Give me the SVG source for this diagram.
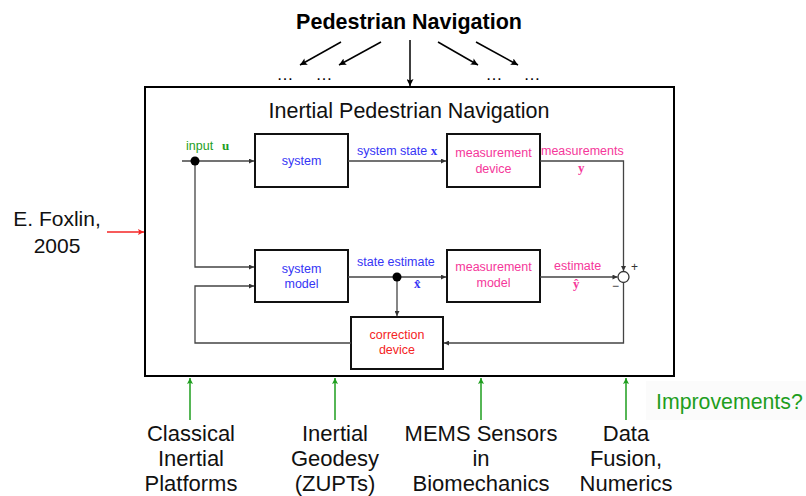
<svg xmlns="http://www.w3.org/2000/svg" width="806" height="496" viewBox="0 0 806 496">
<style>
.t{font-family:"Liberation Sans",Arial,sans-serif}
.big{font-size:22px;fill:#111}
.sm{font-size:12.5px}
.blue{fill:#3535f5}
.pink{fill:#f5379a}
.red{fill:#f42424}
.green{fill:#1e9e1e}
.m{font-family:"Liberation Serif","DejaVu Serif",serif;font-weight:bold;font-size:13px}
.blk{fill:#fff;stroke:#111;stroke-width:2}
.con{fill:none;stroke:#444;stroke-width:1.3}
</style>
<defs>
<marker id="ah" viewBox="0 0 10 10" refX="10" refY="5" markerWidth="7" markerHeight="5" orient="auto" markerUnits="userSpaceOnUse"><path d="M0,0 L10,5 L0,10 z" fill="#333"/></marker>
<marker id="ab" viewBox="0 0 10 10" refX="10" refY="5" markerWidth="10" markerHeight="7" orient="auto" markerUnits="userSpaceOnUse"><path d="M0,0 L10,5 L0,10 L2,5 z" fill="#000"/></marker>
<marker id="ar" viewBox="0 0 10 10" refX="10" refY="5" markerWidth="9" markerHeight="6" orient="auto" markerUnits="userSpaceOnUse"><path d="M0,0 L10,5 L0,10 L2,5 z" fill="#f42424"/></marker>
<marker id="ag" viewBox="0 0 10 10" refX="10" refY="5" markerWidth="9" markerHeight="6" orient="auto" markerUnits="userSpaceOnUse"><path d="M0,0 L10,5 L0,10 L2,5 z" fill="#1e9e1e"/></marker>
</defs>
<rect width="806" height="496" fill="#fff"/>

<g id="title">
<text class="t" x="409" y="29" font-size="21.5" font-weight="bold" text-anchor="middle" fill="#000">Pedestrian Navigation</text>
<text class="t" x="285" y="80" font-size="17" text-anchor="middle" fill="#000">…</text>
<text class="t" x="324" y="80" font-size="17" text-anchor="middle" fill="#000">…</text>
<text class="t" x="494" y="80" font-size="17" text-anchor="middle" fill="#000">…</text>
<text class="t" x="532" y="80" font-size="17" text-anchor="middle" fill="#000">…</text>
</g>

<g id="main">
<rect x="145" y="87" width="529" height="289" fill="none" stroke="#000" stroke-width="2"/>
<text class="t" x="409" y="118" font-size="21.5" text-anchor="middle" fill="#111">Inertial Pedestrian Navigation</text>
</g>

<g id="system"><rect class="blk" x="255" y="134" width="93" height="53"/><text class="t sm blue" x="301.5" y="165" text-anchor="middle">system</text></g>
<g id="measurement-device"><rect class="blk" x="447" y="134" width="93" height="53"/><text class="t sm pink" x="493.5" y="157" text-anchor="middle">measurement</text><text class="t sm pink" x="493.5" y="173" text-anchor="middle">device</text></g>
<g id="system-model"><rect class="blk" x="255" y="250" width="93" height="52"/><text class="t sm blue" x="301.5" y="273" text-anchor="middle">system</text><text class="t sm blue" x="301.5" y="288" text-anchor="middle">model</text></g>
<g id="measurement-model"><rect class="blk" x="447" y="250" width="93" height="52"/><text class="t sm pink" x="493.5" y="271" text-anchor="middle">measurement</text><text class="t sm pink" x="493.5" y="287" text-anchor="middle">model</text></g>
<g id="correction-device"><rect class="blk" x="351" y="317" width="92" height="52"/><text class="t sm red" x="397" y="339" text-anchor="middle">correction</text><text class="t sm red" x="397" y="354" text-anchor="middle">device</text></g>
<g id="sum"><circle cx="623.5" cy="277" r="5.5" fill="#fff" stroke="#333" stroke-width="1.3"/><text class="t" x="631" y="271" font-size="12" fill="#333">+</text><text class="t" x="612" y="290" font-size="12" fill="#333">−</text></g>

<g id="foxlin"><text class="t" font-size="21" fill="#111" x="57" y="226" text-anchor="middle">E. Foxlin,</text><text class="t" font-size="21" fill="#111" x="57" y="253" text-anchor="middle">2005</text></g>
<g id="classical"><text class="t big" x="191" y="441" text-anchor="middle">Classical</text><text class="t big" x="191" y="466" text-anchor="middle">Inertial</text><text class="t big" x="191" y="491" text-anchor="middle">Platforms</text></g>
<g id="geodesy"><text class="t big" x="335" y="441" text-anchor="middle">Inertial</text><text class="t big" x="335" y="466" text-anchor="middle">Geodesy</text><text class="t big" x="335" y="491" text-anchor="middle">(ZUPTs)</text></g>
<g id="mems"><text class="t big" x="481" y="441" text-anchor="middle">MEMS Sensors</text><text class="t big" x="481" y="466" text-anchor="middle">in</text><text class="t big" x="481" y="491" text-anchor="middle">Biomechanics</text></g>
<g id="fusion"><text class="t big" x="626" y="441" text-anchor="middle">Data</text><text class="t big" x="626" y="466" text-anchor="middle">Fusion,</text><text class="t big" x="626" y="491" text-anchor="middle">Numerics</text></g>
<g id="improvements"><rect x="646" y="381" width="160" height="39" fill="#fbfbfb"/><text class="t green" x="656" y="409" font-size="21.3">Improvements?</text></g>

<g id="connectors">
<g stroke="#000" stroke-width="1.5" fill="none" marker-end="url(#ab)">
<line x1="341" y1="42" x2="300" y2="65"/>
<line x1="381" y1="42" x2="339" y2="65"/>
<line x1="410" y1="40" x2="410" y2="86"/>
<line x1="438" y1="42" x2="478" y2="65"/>
<line x1="476" y1="42" x2="518" y2="65"/>
</g>
<line x1="107" y1="232" x2="144" y2="232" stroke="#f42424" stroke-width="1.5" marker-end="url(#ar)"/>
<g stroke="#1e9e1e" stroke-width="1.5" marker-end="url(#ag)">
<line x1="190" y1="420" x2="190" y2="378"/>
<line x1="335" y1="420" x2="335" y2="378"/>
<line x1="481" y1="420" x2="481" y2="378"/>
<line x1="626" y1="420" x2="626" y2="378"/>
</g>
<g class="con" marker-end="url(#ah)">
<path d="M182,161 H254"/>
<path d="M195,161 V267 H254"/>
<path d="M348,161 H446"/>
<path d="M540,161 H623.5 V271"/>
<path d="M540,277 H617.5"/>
<path d="M623.5,282.5 V343 H444"/>
<path d="M348,277 H446"/>
<path d="M397,277 V316"/>
<path d="M351,343 H195 V286 H254"/>
</g>
<circle cx="195" cy="161" r="4.5" fill="#000"/>
<circle cx="397" cy="277" r="4.5" fill="#000"/>
<text class="t sm green" x="186" y="150">input</text><text class="m green" x="222" y="150">u</text>
<text class="t sm blue" x="357" y="155">system state <tspan class="m">x</tspan></text>
<text class="t sm pink" x="541" y="155">measurements</text><text class="m pink" x="578" y="172">y</text>
<text class="t sm blue" x="357" y="266">state estimate</text><text class="m blue" x="414" y="288">x̂</text>
<text class="t sm pink" x="554" y="270">estimate</text><text class="m pink" x="573" y="288">ŷ</text>
</g>
</svg>
